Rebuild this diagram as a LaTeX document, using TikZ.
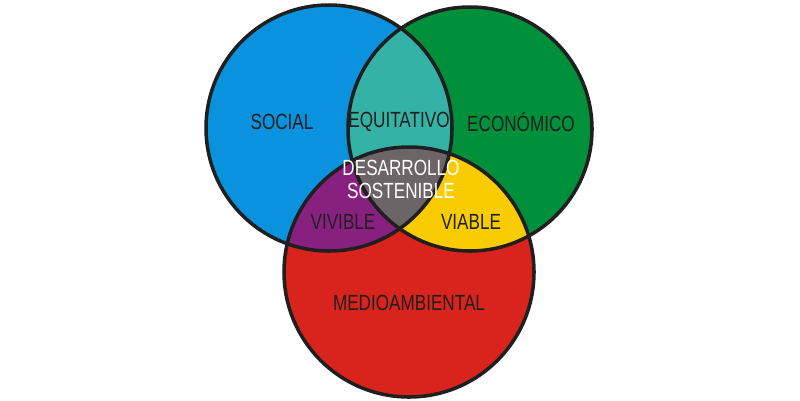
\documentclass[tikz,border=0pt]{standalone}
\usepackage{fontspec}
\setmainfont{Liberation Sans}[FakeStretch=0.78]
\usepackage{xcolor}
\usetikzlibrary{positioning}

\definecolor{socialblue}{RGB}{10,146,222}
\definecolor{econgreen}{RGB}{0,143,58}
\definecolor{envred}{RGB}{216,36,28}
\definecolor{lensteal}{RGB}{52,178,166}
\definecolor{lenspurple}{RGB}{136,32,128}
\definecolor{lensyellow}{RGB}{248,204,0}
\definecolor{coregray}{RGB}{108,100,102}

\begin{document}
\begin{tikzpicture}[
  x=0.02cm,y=-0.02cm,
  ring/.style={draw=black!88,line width=2pt},
  lbl/.style={font=\fontsize{12.5}{13}\selectfont,text=black!88,inner sep=0pt}
]
\useasboundingbox (0,0) rectangle (800,400);
\coordinate (cs) at (329,128);
\coordinate (ce) at (470,129);
\coordinate (cm) at (409,272);
\def\rs{123}
\def\re{122}
\def\rm{125}
% the three circles
\fill[socialblue] (cs) circle[radius=\rs];
\fill[econgreen] (ce) circle[radius=\re];
\fill[envred] (cm) circle[radius=\rm];
% overlaps
\begin{scope}
  \clip (cs) circle[radius=\rs];
  \fill[lensteal] (ce) circle[radius=\re];
  \fill[lenspurple] (cm) circle[radius=\rm];
\end{scope}
\begin{scope}
  \clip (ce) circle[radius=\re];
  \fill[lensyellow] (cm) circle[radius=\rm];
  \clip (cs) circle[radius=\rs];
  \fill[coregray] (cm) circle[radius=\rm];
\end{scope}
\draw[ring] (cs) circle[radius=\rs];
\draw[ring] (ce) circle[radius=\re];
\draw[ring] (cm) circle[radius=\rm];
% labels
\node[lbl] (social) at (282,122) {SOCIAL};
\node[lbl] (equit) at (399,122) {EQUITATIVO};
\node[lbl] (econ) at (521,122) {ECONÓMICO};
\node[lbl,text=white] (desa) at (401,168) {DESARROLLO};
\node[lbl,text=white] (sost) at (401,191) {SOSTENIBLE};
\node[lbl] (vivible) at (343,222) {VIVIBLE};
\node[lbl] (viable) at (471,222) {VIABLE};
\node[lbl] (medio) at (409,303) {MEDIOAMBIENTAL};
\end{tikzpicture}
\end{document}
